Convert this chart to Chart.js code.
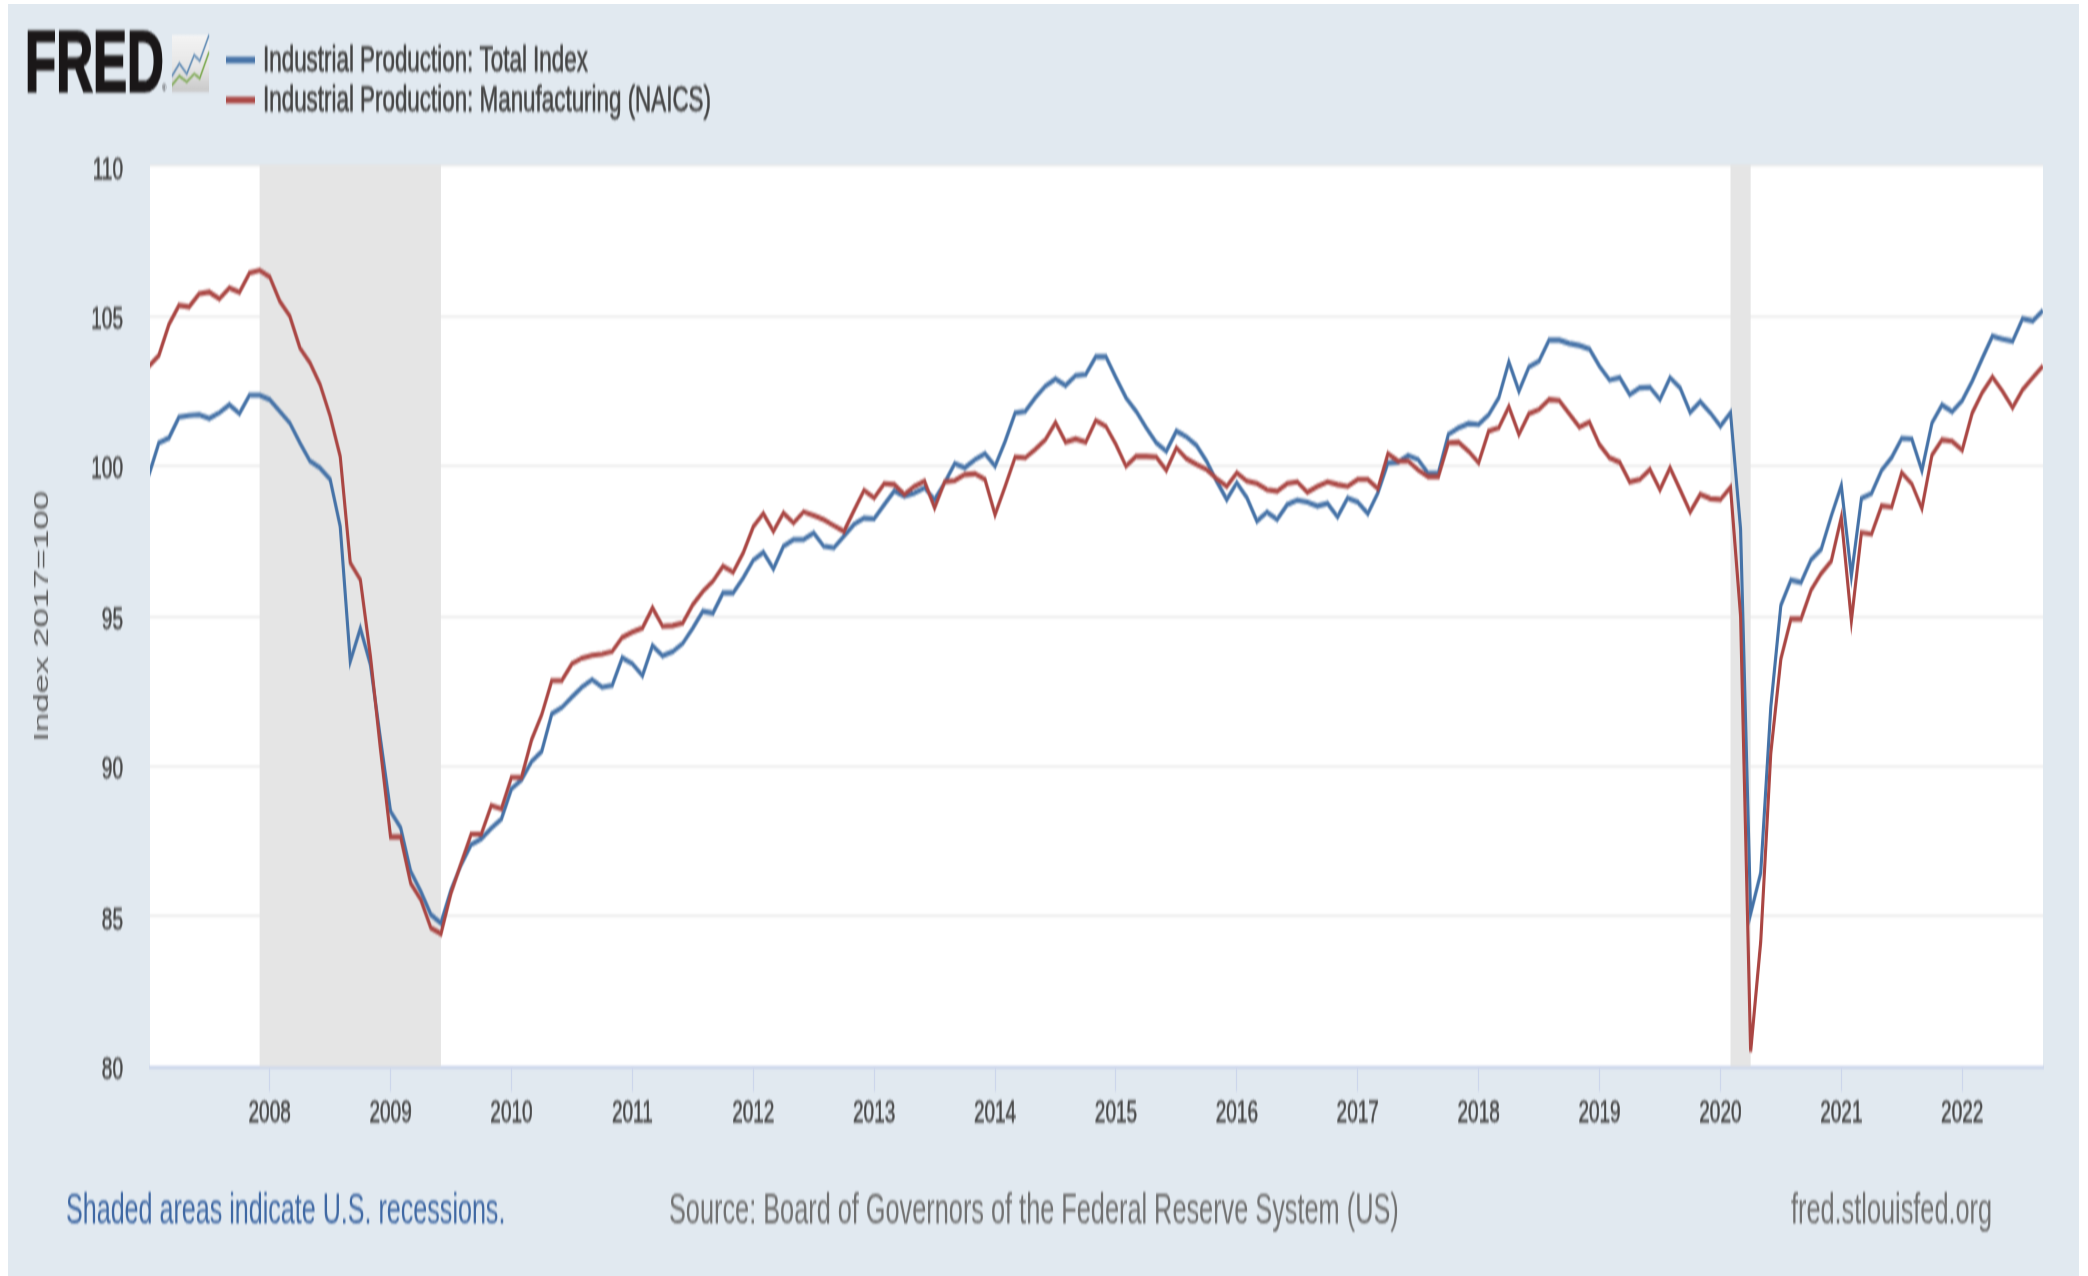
<!DOCTYPE html>
<html>
<head>
<meta charset="utf-8">
<script src="https://cdn.jsdelivr.net/npm/chart.js@4"></script>
<style>
html,body{margin:0;padding:0;background:#fff;width:2088px;height:1276px;overflow:hidden}
#panel{position:absolute;left:8px;top:4px;width:2071px;height:1272px;background:#e1e9f0}
#wrap{position:absolute;left:0;top:0;width:2088px;height:769px;transform-origin:0 0;transform:scaleY(1.66);filter:blur(0.65px)}
canvas{display:block}
</style>
</head>
<body>
<div id="panel"></div>
<div id="wrap"><canvas id="c" width="2088" height="769"></canvas></div>
<script>
const firstYear = 2007;
const yearTicks = [2008,2009,2010,2011,2012,2013,2014,2015,2016,2017,2018,2019,2020,2021,2022];
const yTicks = [80,85,90,95,100,105,110];
const totalIndex = [
 99.7,100.78,100.94,101.64,101.69,101.72,101.59,101.78,102.05,101.76,102.37,102.37,
 102.22,101.83,101.44,100.78,100.17,99.94,99.56,98.0,93.5,94.6,93.39,90.9,
 88.5,87.95,86.5,85.84,85.06,84.78,85.89,86.72,87.39,87.59,87.94,88.25,
 89.25,89.55,90.16,90.5,91.75,91.96,92.31,92.64,92.89,92.64,92.7,93.62,
 93.42,93.02,94.02,93.68,93.82,94.1,94.61,95.17,95.11,95.78,95.78,96.28,
 96.87,97.13,96.58,97.33,97.56,97.56,97.78,97.33,97.28,97.67,98.06,98.27,
 98.25,98.72,99.17,99.0,99.11,99.28,98.89,99.45,100.09,99.95,100.22,100.42,
 100.0,100.83,101.78,101.83,102.28,102.67,102.91,102.69,103.02,103.06,103.65,103.65,
 102.95,102.28,101.83,101.28,100.78,100.5,101.17,100.98,100.69,100.17,99.5,98.89,
 99.45,98.95,98.17,98.47,98.22,98.72,98.87,98.8,98.67,98.76,98.31,98.94,
 98.8,98.42,99.11,100.11,100.13,100.36,100.22,99.76,99.78,101.06,101.28,101.42,
 101.39,101.72,102.28,103.47,102.5,103.31,103.5,104.2,104.2,104.09,104.02,103.91,
 103.33,102.87,102.95,102.39,102.61,102.63,102.22,102.95,102.61,101.8,102.15,101.78,
 101.33,101.78,97.91,85.09,86.45,91.97,95.37,96.21,96.13,96.89,97.23,98.34,
 99.35,96.35,98.93,99.1,99.86,100.29,100.93,100.9,99.86,101.44,102.04,101.82,
 102.19,102.84,103.6,104.33,104.24,104.16,104.92,104.84,105.18
];
const manufacturing = [
 103.33,103.69,104.72,105.36,105.31,105.74,105.8,105.58,105.94,105.8,106.44,106.53,
 106.31,105.5,105.0,103.94,103.44,102.72,101.67,100.33,96.78,96.22,93.67,90.56,
 87.65,87.65,86.1,85.56,84.62,84.42,85.78,86.78,87.74,87.74,88.7,88.59,
 89.64,89.64,90.89,91.72,92.86,92.86,93.42,93.61,93.7,93.74,93.83,94.3,
 94.47,94.61,95.28,94.67,94.69,94.78,95.39,95.83,96.17,96.67,96.47,97.11,
 97.98,98.42,97.83,98.44,98.11,98.48,98.36,98.22,98.02,97.83,98.53,99.2,
 98.94,99.42,99.39,99.06,99.33,99.5,98.61,99.48,99.52,99.72,99.75,99.56,
 98.39,99.33,100.31,100.28,100.56,100.89,101.45,100.8,100.91,100.8,101.52,101.33,
 100.72,100.0,100.33,100.33,100.31,99.87,100.61,100.25,100.06,99.89,99.58,99.33,
 99.78,99.5,99.42,99.22,99.17,99.42,99.48,99.13,99.33,99.48,99.39,99.33,
 99.56,99.56,99.25,100.42,100.17,100.17,99.87,99.65,99.65,100.78,100.8,100.5,
 100.11,101.17,101.28,101.98,101.06,101.75,101.89,102.22,102.19,101.75,101.3,101.47,
 100.72,100.28,100.13,99.48,99.56,99.89,99.22,99.95,99.22,98.48,99.06,98.92,
 98.89,99.3,95.03,80.5,84.16,90.44,93.58,94.91,94.91,95.87,96.43,96.84,
 98.3,94.86,97.79,97.74,98.68,98.64,99.78,99.41,98.59,100.37,100.88,100.83,
 100.54,101.78,102.46,102.97,102.5,101.95,102.55,102.95,103.34
];
/* months since January of firstYear: Dec 2007 – Jun 2009, Feb 2020 – Apr 2020 */
const recessionStart = [11,157];
const recessionEnd = [29,159];
const seriesNames = ['Industrial Production: Total Index','Industrial Production: Manufacturing (NAICS)'];
const seriesColors = ['#4572a7','#aa4643'];
const noteText = 'Shaded areas indicate U.S. recessions.';
const sourceText = 'Source: Board of Governors of the Federal Reserve System (US)';
const siteText = 'fred.stlouisfed.org';
const yTitle = 'Index 2017=100';

const FONT = '"Liberation Sans", Arial, sans-serif';
const SY = 1.66; /* canvas is stretched vertically, as the reference is */
const pts = arr => arr.map((v,i)=>({x:i,y:v}));

const decor = {
  id:'decor',
  beforeDraw(ch){
    const {ctx,chartArea:a}=ch;
    ctx.save();
    ctx.fillStyle='#fff';
    ctx.fillRect(a.left,a.top-1,a.right-a.left,a.bottom-a.top+1);
    ctx.restore();
  },
  beforeDatasetsDraw(ch){
    const {ctx,chartArea:a,scales:{x}}=ch;
    ctx.save();
    ctx.fillStyle='#e5e5e5';
    recessionStart.forEach((s,i)=>{
      const l=x.getPixelForValue(s), r=x.getPixelForValue(recessionEnd[i]);
      ctx.fillRect(l,a.top-1,r-l,a.bottom-a.top+1);
    });
    ctx.restore();
  },
  afterDraw(ch){
    const {ctx}=ch;
    ctx.save();
    /* logo */
    ctx.fillStyle='#1a1718';
    ctx.strokeStyle='#1a1718';
    ctx.font='bold 51px '+FONT;
    ctx.textBaseline='alphabetic';
    ctx.lineWidth=1.4;
    ctx.strokeText('FRED',25,92/SY);
    ctx.fillText('FRED',25,92/SY);
    ctx.font='6px '+FONT;
    ctx.fillText('®',162,92/SY);
    const ix=172, iw=37, it=35/SY, ih=57/SY;
    const g=ctx.createLinearGradient(0,it,0,it+ih);
    g.addColorStop(0,'#f4f4f4'); g.addColorStop(.55,'#e6e6e6'); g.addColorStop(1,'#c9c9c9');
    ctx.fillStyle=g; ctx.fillRect(ix,it,iw,ih);
    const spark=(c,p)=>{ctx.beginPath();p.forEach((q,i)=>{const X=ix+q[0]*iw,Y=it+q[1]*ih;i?ctx.lineTo(X,Y):ctx.moveTo(X,Y);});ctx.strokeStyle=c;ctx.lineWidth=1.3;ctx.stroke();};
    spark('#4f7fae',[[0,.72],[.2,.5],[.4,.68],[.6,.35],[.75,.45],[1,0]]);
    spark('#6fa23c',[[0,.88],[.2,.72],[.4,.82],[.6,.68],[.75,.76],[1,.3]]);
    /* legend */
    ctx.font='22.4px '+FONT;
    seriesNames.forEach((n,i)=>{
      const cy=(60+i*40)/SY;
      ctx.fillStyle=seriesColors[i];
      ctx.fillRect(226,cy-2,29,4);
      ctx.fillStyle='#444';
      ctx.strokeStyle='#444';
      ctx.lineWidth=0.45;
      ctx.strokeText(n,263,(72+i*39.5)/SY);
      ctx.fillText(n,263,(72+i*39.5)/SY);
    });
    /* footer */
    ctx.font='25.1px '+FONT;
    ctx.fillStyle='#3f68a3';
    ctx.fillText(noteText,66,1223.5/SY);
    ctx.font='25.3px '+FONT;
    ctx.fillStyle='#707070';
    ctx.fillText(sourceText,669,1223.5/SY);
    ctx.fillText(siteText,1791,1223.5/SY);
    ctx.restore();
  }
};

new Chart(document.getElementById('c'),{
  type:'line',
  data:{datasets:[
    {label:seriesNames[0],data:pts(totalIndex),borderColor:seriesColors[0],order:2},
    {label:seriesNames[1],data:pts(manufacturing),borderColor:seriesColors[1],order:1}
  ]},
  options:{
    responsive:false,animation:false,devicePixelRatio:1,
    parsing:false,
    layout:{padding:{left:30,right:45,top:100,bottom:0}},
    datasets:{line:{borderWidth:3.1,pointRadius:0,tension:0,fill:false,borderJoinStyle:'miter',borderCapStyle:'butt'}},
    plugins:{legend:{display:false},tooltip:{enabled:false},title:{display:false}},
    scales:{
      x:{
        type:'linear',min:0.12,max:188.02,
        afterFit(s){s.height=126.5;},
        afterBuildTicks(s){s.ticks=yearTicks.map(y=>({value:(y-firstYear)*12}));},
        grid:{display:true,drawOnChartArea:false,drawTicks:true,tickLength:15,tickColor:'#ccd6eb',tickWidth:1.2},
        border:{display:true,color:'#ccd6eb',width:2},
        ticks:{autoSkip:false,maxRotation:0,minRotation:0,padding:2.2,color:'#474747',textStrokeColor:'#474747',textStrokeWidth:0.4,
          font:{family:FONT,size:19},
          callback:v=>String(firstYear+v/12)}
      },
      y:{
        min:80,max:110,
        afterFit(s){s.width=120;},
        afterBuildTicks(s){s.ticks=yTicks.map(v=>({value:v}));},
        grid:{display:true,color:'#e9e9e9',lineWidth:1.3,drawTicks:false,drawOnChartArea:true},
        border:{display:false},
        title:{display:true,text:yTitle,color:'#5c5c5c',font:{family:FONT,size:21},padding:0},
        /* the empty first line with a small line height drops each label a little below its gridline, as in the reference */
        ticks:{padding:27,color:'#474747',textStrokeColor:'#474747',textStrokeWidth:0.4,font:{family:FONT,size:19,lineHeight:0.25},callback:v=>['',String(v)]}
      }
    }
  },
  plugins:[decor]
});
</script>
</body>
</html>
